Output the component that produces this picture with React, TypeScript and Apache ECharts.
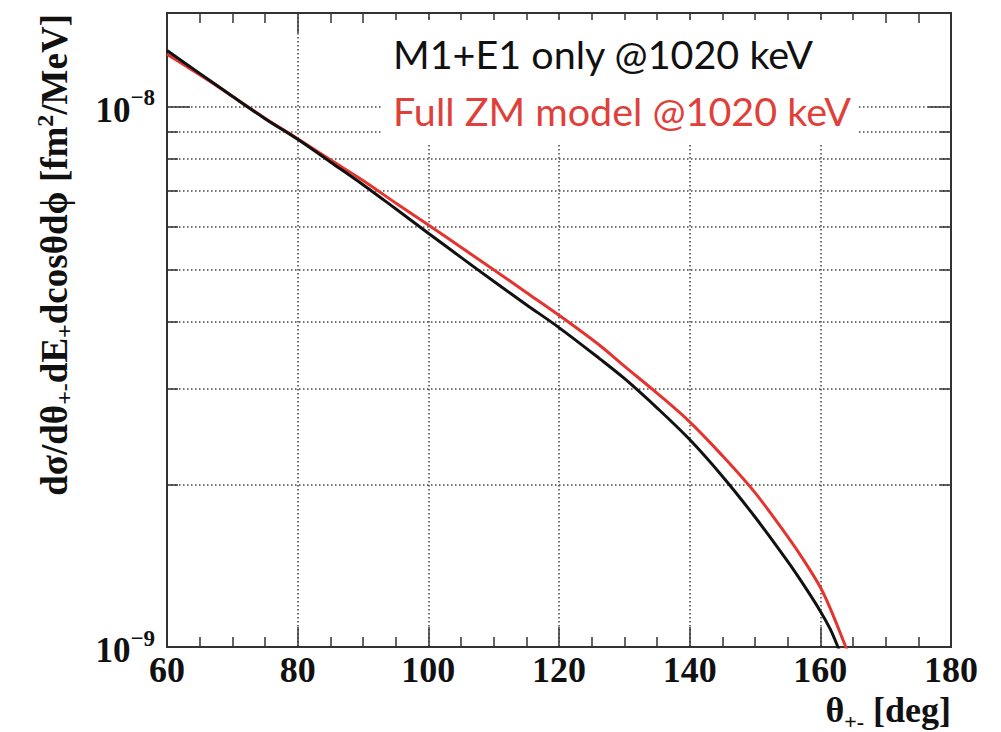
import React, { useEffect, useRef } from "react";
import * as echarts from "echarts";

// ---- data ----
const thetaBlack = [60, 65, 70, 75, 80, 85, 90, 95, 100, 105, 110, 115, 120, 126.3, 130, 135, 140, 145, 150, 155, 157.5, 160, 161.5, 162.7, 163.5];
const sigmaBlack = [1.27e-8, 1.152e-8, 1.045e-8, 9.5e-9, 8.7e-9, 7.9e-9, 7.17e-9, 6.47e-9, 5.83e-9, 5.26e-9, 4.75e-9, 4.3e-9, 3.9e-9, 3.41e-9, 3.14e-9, 2.77e-9, 2.42e-9, 2.07e-9, 1.74e-9, 1.44e-9, 1.3e-9, 1.165e-9, 1.08e-9, 1.0e-9, 0.95e-9];

const thetaRed = [60, 65, 70, 75, 80, 85, 90, 95, 100, 105, 110, 115, 120, 126.3, 130, 135, 140, 145, 150, 155, 157.5, 160, 161.5, 163.9, 164.8];
const sigmaRed = [1.25e-8, 1.145e-8, 1.045e-8, 9.52e-9, 8.72e-9, 7.97e-9, 7.3e-9, 6.63e-9, 6.04e-9, 5.49e-9, 4.99e-9, 4.53e-9, 4.11e-9, 3.61e-9, 3.31e-9, 2.95e-9, 2.61e-9, 2.26e-9, 1.93e-9, 1.6e-9, 1.445e-9, 1.29e-9, 1.18e-9, 1.0e-9, 0.94e-9];

const seriesNames = ["M1+E1 only @1020 keV", "Full ZM model @1020 keV"];
const yMajorTicks = [1e-9, 1e-8];
const yMinorTicks = [2e-9, 3e-9, 4e-9, 5e-9, 6e-9, 7e-9, 8e-9, 9e-9];
const xMin = 60;
const xMax = 180;
const xStep = 20;
const yMin = 1e-9;
const yMax = 1.49e-8;

const SERIF = '"Liberation Serif", "Times New Roman", serif';
const SANS = 'Lato, "Noto Sans", sans-serif';
const FRAME = "#333";
const GRID = "#444";
const RED = "#e3342f";

const pairs = (xs: number[], ys: number[]) => xs.map((x, i) => [x, ys[i]]);

export default function App() {
  const ref = useRef<HTMLDivElement>(null);

  useEffect(() => {
    if (!ref.current) return;
    const chart = echarts.init(ref.current, undefined, { renderer: "svg" });

    const axisLine = { show: true, onZero: false, lineStyle: { color: FRAME, width: 2 } };
    const gridLine = { show: true, lineStyle: { color: GRID, width: 1.5, type: [1.5, 2.5] as any } };

    const xBase = (pos: "bottom" | "top") => ({
      type: "value" as const,
      position: pos,
      min: xMin,
      max: xMax,
      interval: xStep,
      axisLine,
      axisTick: { show: true, inside: true, length: 20, lineStyle: { color: FRAME, width: 1.5 } },
      minorTick: { show: true, splitNumber: 4, length: 10, lineStyle: { color: FRAME, width: 1.5 } },
    });

    const yBase = (pos: "left" | "right") => ({
      type: "log" as const,
      logBase: 10,
      position: pos,
      min: yMin,
      max: yMax,
      axisLine,
    });

    const option: any = {
      animation: false,
      backgroundColor: "#ffffff",
      grid: { left: 167, right: 50, top: 13, bottom: 80, containLabel: false },
      legend: {
        orient: "vertical",
        left: 381,
        top: 20,
        padding: [13, 8, 14, 7],
        itemGap: 17,
        itemWidth: 0,
        itemHeight: 0,
        icon: "rect",
        itemStyle: { opacity: 0 },
        lineStyle: { opacity: 0 },
        selectedMode: false,
        backgroundColor: "#ffffff",
        textStyle: { fontFamily: SANS, fontSize: 39.5 },
        data: [
          { name: seriesNames[0], textStyle: { color: "#111111" } },
          { name: seriesNames[1], textStyle: { color: "#e0403a" } },
        ],
      },
      xAxis: [
        {
          ...xBase("bottom"),
          axisLabel: { show: true, fontFamily: SERIF, fontWeight: "bold", fontSize: 36, color: "#111", margin: 5 },
          splitLine: gridLine,
          name: "{t|θ}{s|+-}{t| [deg]}",
          nameLocation: "end",
          nameGap: 0,
          nameTextStyle: {
            align: "right",
            verticalAlign: "top",
            padding: [41, 0, 0, 0],
            rich: {
              t: { fontFamily: SERIF, fontWeight: "bold", fontSize: 36, color: "#111" },
              s: { fontFamily: SERIF, fontWeight: "bold", fontSize: 22, color: "#111", padding: [22, 0, 0, 0] },
            },
          },
        },
        { ...xBase("top"), axisLabel: { show: false }, splitLine: { show: false } },
      ],
      yAxis: [
        {
          ...yBase("left"),
          axisTick: { show: true, inside: true, length: 23, customValues: yMajorTicks, lineStyle: { color: FRAME, width: 1.5 } },
          axisLabel: {
            show: true,
            customValues: yMajorTicks,
            margin: 12,
            formatter: (v: number) => `{b|10}{s|−${Math.abs(Math.round(Math.log10(v)))}}`,
            rich: {
              b: { fontFamily: SERIF, fontWeight: "bold", fontSize: 35, color: "#111", padding: [7, 0, 0, 0] },
              s: { fontFamily: SERIF, fontWeight: "bold", fontSize: 23, color: "#111", padding: [0, 0, 18, 0] },
            },
          },
          splitLine: gridLine,
        },
        {
          ...yBase("left"),
          axisTick: { show: true, inside: true, length: 11, customValues: yMinorTicks, lineStyle: { color: FRAME, width: 1.5 } },
          axisLabel: { show: false },
          splitLine: gridLine,
        },
        {
          ...yBase("right"),
          axisTick: { show: true, inside: true, length: 23, customValues: yMajorTicks, lineStyle: { color: FRAME, width: 1.5 } },
          axisLabel: { show: false },
          splitLine: { show: false },
        },
        {
          ...yBase("right"),
          axisTick: { show: true, inside: true, length: 11, customValues: yMinorTicks, lineStyle: { color: FRAME, width: 1.5 } },
          axisLabel: { show: false },
          splitLine: { show: false },
        },
      ],
      graphic: [
        {
          type: "text",
          x: 54,
          y: 14,
          rotation: Math.PI / 2,
          style: {
            text: "{n|dσ/dθ}{sub|+-}{n|dE}{sub|+}{n|dcosθdϕ [fm}{sup|2}{n|/MeV]}",
            align: "right",
            verticalAlign: "middle",
            rich: {
              n: { fontFamily: SERIF, fontWeight: "bold", fontSize: 37, fill: "#111" },
              sub: { fontFamily: SERIF, fontWeight: "bold", fontSize: 24, fill: "#111", padding: [19, 0, 0, 0] },
              sup: { fontFamily: SERIF, fontWeight: "bold", fontSize: 24, fill: "#111", padding: [0, 0, 19, 0] },
            },
          },
        },
      ],
      series: [
        {
          type: "line",
          name: seriesNames[1],
          data: pairs(thetaRed, sigmaRed),
          xAxisIndex: 0,
          yAxisIndex: 0,
          showSymbol: false,
          symbol: "none",
          smooth: 0.35,
          lineStyle: { color: RED, width: 3 },
          itemStyle: { color: RED },
          z: 3,
        },
        {
          type: "line",
          name: seriesNames[0],
          data: pairs(thetaBlack, sigmaBlack),
          xAxisIndex: 0,
          yAxisIndex: 0,
          showSymbol: false,
          symbol: "none",
          smooth: 0.35,
          lineStyle: { color: "#111", width: 3 },
          itemStyle: { color: "#111" },
          z: 4,
        },
      ],
    };

    chart.setOption(option);
    return () => chart.dispose();
  }, []);

  return (
    <div
      ref={ref}
      style={{ position: "fixed", left: 0, top: 0, width: 1001, height: 732, background: "#fff" }}
    />
  );
}
